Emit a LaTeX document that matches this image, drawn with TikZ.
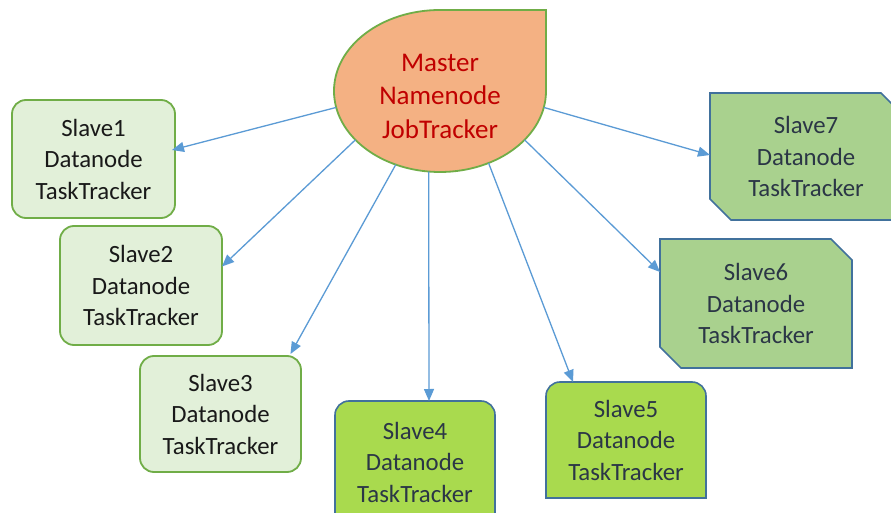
\documentclass[tikz,border=0pt]{standalone}
\usepackage{fontspec}
\setmainfont{Carlito}
\usetikzlibrary{arrows.meta,shapes.geometric,backgrounds}

\definecolor{masterfill}{HTML}{F4B183}
\definecolor{greenline}{HTML}{70AD47}
\definecolor{paleslave}{HTML}{E2F0D9}
\definecolor{limeslave}{HTML}{A9DA4E}
\definecolor{sageslave}{HTML}{A9D18E}
\definecolor{blueline}{HTML}{41719C}
\definecolor{arrowblue}{HTML}{5B9BD5}
\definecolor{mastertext}{HTML}{C00000}
\definecolor{slatetext}{HTML}{2B3646}

\begin{document}
\begin{tikzpicture}[x=1pt,y=1pt,
  boxtext/.style={align=center, inner sep=0pt, outer sep=0pt,
    font=\fontsize{24.8pt}{31.5pt}\selectfont},
  palebox/.style={boxtext, rectangle, draw=greenline, fill=paleslave,
    line width=1.8pt, rounded corners=14pt, text=black!90},
  plainbox/.style={boxtext, rectangle, draw=none, text=slatetext},
  limeshape/.style={draw=blueline, fill=limeslave, line width=1.6pt},
  sageshape/.style={draw=blueline, fill=sageslave, line width=1.6pt},
  conn/.style={draw=arrowblue, line width=1.3pt,
    -{Triangle[length=12pt,width=10pt]}}]

\useasboundingbox (0,0) rectangle (891,512);
\clip (0,0) rectangle (891,512);

% master node (outline drawn as a teardrop below)
\node[ellipse, draw=none, inner sep=0pt, outer sep=0pt,
      minimum width=212pt, minimum height=162pt] (m) at (440,421) {};
\node[align=center, inner sep=0pt, text=mastertext,
      font=\fontsize{27pt}{33.5pt}\selectfont] (mlabel) at (440,416)
      {Master\\Namenode\\JobTracker};

% slaves with rounded corners
\node[palebox, minimum width=163pt, minimum height=118pt] (s1) at (93.5,353)
  {Slave1\\Datanode\\TaskTracker};
\node[palebox, minimum width=162pt, minimum height=119pt] (s2) at (141,226.5)
  {Slave2\\Datanode\\TaskTracker};
\node[palebox, minimum width=161pt, minimum height=116pt] (s3) at (220.5,98)
  {Slave3\\Datanode\\TaskTracker};

% slaves with rounded top corners
\node[plainbox, minimum width=160pt, minimum height=122pt] (s4) at (415,50)
  {Slave4\\Datanode\\TaskTracker};
\node[plainbox, minimum width=160pt, minimum height=116pt] (s5) at (626,72)
  {Slave5\\Datanode\\TaskTracker};

% slaves with snipped corners
\node[plainbox, minimum width=192pt, minimum height=129pt] (s6) at (756,208.5)
  {Slave6\\Datanode\\TaskTracker};
\node[plainbox, minimum width=192pt, minimum height=127pt] (s7) at (806,355.5)
  {Slave7\\Datanode\\TaskTracker};

\begin{pgfonlayer}{background}
  % canvas
  \fill[white] (0,0) rectangle (891,512);
  % master teardrop
  \filldraw[draw=greenline, fill=masterfill, line width=1.8pt]
    (m.east) arc[start angle=0, end angle=-270, x radius=106pt, y radius=81pt]
    -- (m.north -| m.east) -- cycle;
  % rounded-top boxes
  \foreach \b in {s4,s5}{
    \filldraw[limeshape] (\b.south west)
      -- ([yshift=-14pt]\b.north west)
      arc[start angle=180, end angle=90, radius=14pt]
      -- ([xshift=-14pt]\b.north east)
      arc[start angle=90, end angle=0, radius=14pt]
      -- (\b.south east) -- cycle;
  }
  % snipped boxes
  \foreach \b in {s6,s7}{
    \filldraw[sageshape, line join=miter] (\b.north west)
      -- ([xshift=-21pt]\b.north east)
      -- ([yshift=-21pt]\b.north east)
      -- (\b.south east)
      -- ([xshift=21pt]\b.south west)
      -- ([yshift=21pt]\b.south west) -- cycle;
  }
\end{pgfonlayer}

% connectors from the master to each slave
\draw[conn] (m.189.5) -- ([xshift=-3pt,yshift=9pt]s1.east);
\draw[conn] (m.210.9) -- ([yshift=19pt]s2.east);
\draw[conn] (m.239.7) -- ([xshift=70pt,yshift=2pt]s3.north);
\draw[conn] (m.262)   -- ([xshift=14pt]s4.north);
\draw[conn] (m.304)   -- ([xshift=-53pt]s5.north);
\draw[conn] (m.330.9) -- ([yshift=31.5pt]s6.west);
\draw[conn] (m.351)   -- ([yshift=1.5pt]s7.west);
\end{tikzpicture}
\end{document}
